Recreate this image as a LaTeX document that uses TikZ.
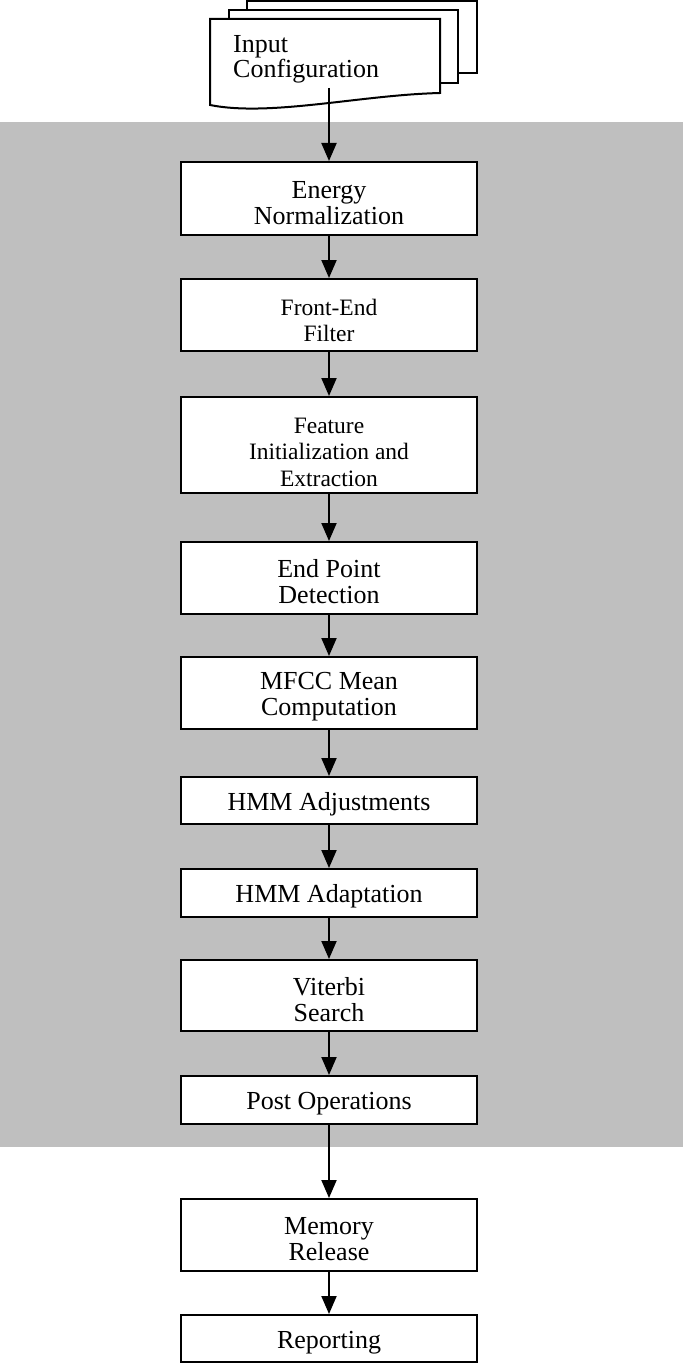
\documentclass[tikz,border=0pt]{standalone}
\usepackage{fontspec}
\setmainfont{Liberation Serif}
\usetikzlibrary{arrows.meta}
\definecolor{panel}{RGB}{191,191,191}
\begin{document}
\begin{tikzpicture}[x=1pt,y=-1pt,
  txtlift/.style={execute at begin node={\rule{0pt}{#1}}},
  box/.style={draw=black, line width=2pt, fill=white, minimum width=296pt,
    align=center, inner sep=0pt, font=\fontsize{26}{26}\selectfont},
  onebox/.style={box, txtlift=25.5pt},
  twobox/.style={box, txtlift=51.5pt},
  smallbox/.style={box, font=\fontsize{23.5}{26.5}\selectfont},
  arr/.style={line width=2pt, -{Triangle[width=15pt,length=18pt]}},
  sheet/.style={draw=black, line width=2pt, fill=white}]
\useasboundingbox (0,0) rectangle (683,1364);
% shaded processing region
\fill[panel] (0,122) rectangle (683,1147);

% stacked input documents
\draw[sheet] (247,1) rectangle (477,73);
\draw[sheet] (229,10) rectangle (458,83);
\draw[sheet] (210,19) -- (440,19) -- (440,93)
  .. controls (360,95) and (270,117) .. (210,105) -- cycle;
\node[anchor=north west, align=left, inner sep=0pt,
  font=\fontsize{26}{25}\selectfont] (inp) at (233,35) {Input\\Configuration};
\coordinate (docout) at (329,88);

% processing steps
\node[twobox, minimum height=73pt] (en) at (329,198.5) {Energy\\Normalization};
\node[smallbox, txtlift=54pt, minimum height=72pt] (fe) at (329,315) {Front-End\\Filter};
\node[smallbox, txtlift=83pt, minimum height=96pt] (fi) at (329,445) {Feature\\Initialization and\\Extraction};
\node[twobox, minimum height=72pt] (ep) at (329,578) {End Point\\Detection};
\node[twobox, minimum height=72pt] (mf) at (329,693) {MFCC Mean\\Computation};
\node[onebox, minimum height=47pt] (ha) at (329,800.5) {HMM Adjustments};
\node[onebox, minimum height=48pt] (hd) at (329,893) {HMM Adaptation};
\node[twobox, minimum height=71pt] (vs) at (329,995.5) {Viterbi\\Search};
\node[onebox, minimum height=48pt] (po) at (329,1100) {Post Operations};
\node[twobox, minimum height=72pt] (mr) at (329,1235) {Memory\\Release};
\node[onebox, minimum height=47pt] (rp) at (329,1338.5) {Reporting};

% flow
\draw[arr] (docout) -- (en);
\draw[arr] (en) -- (fe);
\draw[arr] (fe) -- (fi);
\draw[arr] (fi) -- (ep);
\draw[arr] (ep) -- (mf);
\draw[arr] (mf) -- (ha);
\draw[arr] (ha) -- (hd);
\draw[arr] (hd) -- (vs);
\draw[arr] (vs) -- (po);
\draw[arr] (po) -- (mr);
\draw[arr] (mr) -- (rp);
\end{tikzpicture}
\end{document}
